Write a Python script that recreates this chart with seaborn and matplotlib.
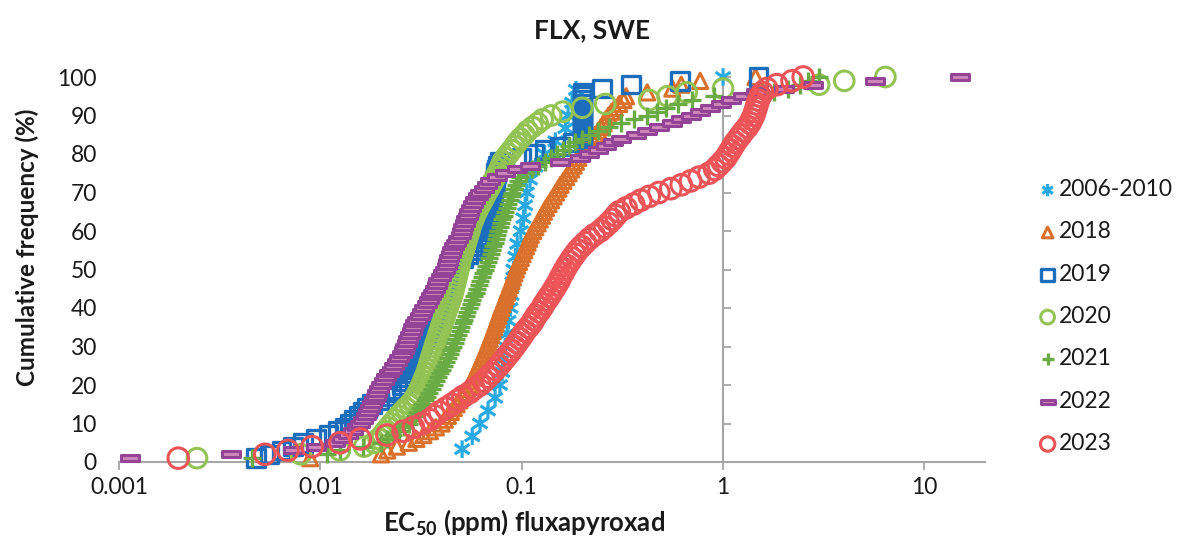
import numpy as np
import pandas as pd
import matplotlib
matplotlib.use("Agg")
import matplotlib.pyplot as plt
from matplotlib.path import Path
import seaborn as sns

# EC50 values (ppm), sorted, one list per sampling period
ec50_2006_2010 = [0.0506, 0.0568, 0.0621, 0.068, 0.0738, 0.078, 0.080, 0.081, 0.0828, 0.0847,
                  0.086, 0.088, 0.089, 0.090, 0.091, 0.093, 0.095, 0.099, 0.102, 0.104,
                  0.106, 0.110, 0.117, 0.130, 0.147, 0.165, 0.170, 0.178, 0.186, 1.0]

ec50_2018 = [0.0089, 0.0200, 0.0215, 0.0240, 0.0275, 0.0300, 0.0325, 0.0350, 0.0375, 0.0400,
             0.0415, 0.0430, 0.0445, 0.0460, 0.0475, 0.0490, 0.0505, 0.0520, 0.0535, 0.0550,
             0.0562, 0.0574, 0.0586, 0.0598, 0.0610, 0.0622, 0.0634, 0.0646, 0.0658, 0.0670,
             0.0682, 0.0694, 0.0706, 0.0718, 0.0730, 0.0742, 0.0754, 0.0766, 0.0778, 0.0790,
             0.0804, 0.0818, 0.0832, 0.0846, 0.0860, 0.0875, 0.0890, 0.0905, 0.0920, 0.0935,
             0.0950, 0.0970, 0.0990, 0.101, 0.103, 0.105, 0.107, 0.109, 0.111, 0.114,
             0.117, 0.120, 0.123, 0.126, 0.129, 0.132, 0.136, 0.140, 0.144, 0.148,
             0.152, 0.156, 0.161, 0.166, 0.171, 0.176, 0.181, 0.186, 0.191, 0.196,
             0.203, 0.210, 0.217, 0.224, 0.232, 0.240, 0.248, 0.255, 0.262, 0.270,
             0.280, 0.290, 0.305, 0.320, 0.330, 0.420, 0.560, 0.620, 0.770, 1.45]

ec50_2019 = [0.0048, 0.0056, 0.0064, 0.0073, 0.0082, 0.0095, 0.0110, 0.0122, 0.0132, 0.0140,
             0.0147, 0.0155, 0.0163, 0.0170, 0.0180, 0.0195, 0.0210, 0.0225, 0.0240, 0.0255,
             0.0262, 0.0268, 0.0274, 0.0280, 0.0286, 0.0292, 0.0298, 0.0304, 0.0310, 0.0316,
             0.0322, 0.0328, 0.0334, 0.0340, 0.0346, 0.0352, 0.0358, 0.0364, 0.0370, 0.0376,
             0.0383, 0.0390, 0.0397, 0.0404, 0.0411, 0.0418, 0.0425, 0.0432, 0.0439, 0.0446,
             0.0460, 0.0480, 0.0510, 0.0540, 0.0570, 0.0600, 0.0625, 0.0645, 0.0660, 0.0670,
             0.0675, 0.0680, 0.0685, 0.0690, 0.0695, 0.0700, 0.0705, 0.0710, 0.0715, 0.0720,
             0.0725, 0.0730, 0.0735, 0.0740, 0.0745, 0.0750, 0.0760, 0.0780, 0.100, 0.115,
             0.130, 0.155, 0.180, 0.200, 0.200, 0.200, 0.200, 0.200, 0.200, 0.200,
             0.200, 0.200, 0.200, 0.200, 0.200, 0.200, 0.250, 0.350, 0.610, 1.50]

ec50_2020 = [0.00244, 0.0080, 0.0125, 0.0165, 0.0185, 0.0195, 0.0203, 0.0210, 0.0218, 0.0226,
             0.0235, 0.0245, 0.0255, 0.0266, 0.0278, 0.0289, 0.0298, 0.0305, 0.0312, 0.0318,
             0.0324, 0.0330, 0.0336, 0.0341, 0.0346, 0.0350, 0.0355, 0.0360, 0.0365, 0.0370,
             0.0375, 0.0381, 0.0386, 0.0392, 0.0397, 0.0403, 0.0409, 0.0415, 0.0421, 0.0428,
             0.0435, 0.0442, 0.0449, 0.0455, 0.0460, 0.0465, 0.0470, 0.0475, 0.0480, 0.0485,
             0.0490, 0.0494, 0.0500, 0.0507, 0.0514, 0.0521, 0.0528, 0.0535, 0.0542, 0.0550,
             0.0556, 0.0565, 0.0575, 0.0585, 0.0597, 0.0610, 0.0625, 0.0640, 0.0655, 0.0670,
             0.0688, 0.0705, 0.0722, 0.0740, 0.0760, 0.0775, 0.0790, 0.0805, 0.0830, 0.0860,
             0.0890, 0.0920, 0.0950, 0.0985, 0.103, 0.107, 0.113, 0.120, 0.127, 0.140,
             0.160, 0.200, 0.260, 0.430, 0.530, 0.660, 1.00, 3.00, 4.00, 6.40]

ec50_2021 = [0.0046, 0.0108, 0.0125, 0.0163, 0.0200, 0.0215, 0.0230, 0.0245, 0.0260, 0.0275,
             0.0285, 0.0294, 0.0303, 0.0312, 0.0321, 0.0330, 0.0339, 0.0348, 0.0357, 0.0366,
             0.0375, 0.0384, 0.0393, 0.0402, 0.0411, 0.0420, 0.0429, 0.0438, 0.0447, 0.0456,
             0.0465, 0.0474, 0.0483, 0.0492, 0.0501, 0.0510, 0.0519, 0.0528, 0.0537, 0.0546,
             0.0557, 0.0568, 0.0579, 0.0590, 0.0601, 0.0612, 0.0623, 0.0634, 0.0645, 0.0656,
             0.0667, 0.0678, 0.0689, 0.0700, 0.0711, 0.0722, 0.0733, 0.0744, 0.0755, 0.0766,
             0.0778, 0.0790, 0.0802, 0.0815, 0.0828, 0.0842, 0.0856, 0.0870, 0.0885, 0.0900,
             0.0920, 0.0940, 0.0960, 0.0985, 0.105, 0.112, 0.120, 0.130, 0.140, 0.150,
             0.160, 0.172, 0.185, 0.200, 0.215, 0.240, 0.270, 0.310, 0.360, 0.420,
             0.470, 0.520, 0.600, 0.700, 0.900, 1.80, 2.10, 2.40, 2.65, 3.00]

ec50_2022 = [0.00113, 0.0036, 0.0073, 0.0095, 0.0118, 0.0128, 0.0137, 0.0145, 0.0152, 0.0158,
             0.0163, 0.0168, 0.0173, 0.0177, 0.0181, 0.0185, 0.0188, 0.0191, 0.0196, 0.0201,
             0.0207, 0.0213, 0.0219, 0.0226, 0.0233, 0.0241, 0.0247, 0.0253, 0.0259, 0.0264,
             0.0269, 0.0274, 0.0279, 0.0284, 0.0289, 0.0296, 0.0303, 0.0311, 0.0320, 0.0329,
             0.0337, 0.0345, 0.0354, 0.0362, 0.0370, 0.0378, 0.0386, 0.0396, 0.0407, 0.0418,
             0.0424, 0.0430, 0.0437, 0.0445, 0.0453, 0.0461, 0.0472, 0.0485, 0.0497, 0.0505,
             0.0513, 0.0522, 0.0531, 0.0540, 0.0550, 0.0561, 0.0573, 0.0586, 0.0604, 0.0624,
             0.0650, 0.0672, 0.0696, 0.0750, 0.0825, 0.095, 0.110, 0.155, 0.195, 0.215,
             0.240, 0.262, 0.285, 0.310, 0.370, 0.420, 0.480, 0.560, 0.620, 0.690,
             0.770, 0.860, 0.980, 1.10, 1.25, 1.45, 2.00, 2.80, 5.70, 15.0]

ec50_2023 = [0.00197, 0.0053, 0.0069, 0.0091, 0.0125, 0.0158, 0.0214, 0.0258, 0.029, 0.032,
             0.035, 0.037, 0.039, 0.042, 0.045, 0.048, 0.051, 0.055, 0.058, 0.062,
             0.065, 0.068, 0.071, 0.074, 0.077, 0.080, 0.083, 0.086, 0.089, 0.092,
             0.095, 0.098, 0.101, 0.104, 0.108, 0.112, 0.115, 0.118, 0.122, 0.126,
             0.129, 0.133, 0.137, 0.141, 0.145, 0.149, 0.153, 0.156, 0.160, 0.164,
             0.168, 0.173, 0.178, 0.184, 0.190, 0.198, 0.207, 0.217, 0.229, 0.245,
             0.258, 0.270, 0.282, 0.293, 0.305, 0.330, 0.360, 0.390, 0.430, 0.480,
             0.550, 0.620, 0.690, 0.760, 0.850, 0.910, 0.950, 0.990, 1.03, 1.06,
             1.09, 1.12, 1.15, 1.19, 1.23, 1.27, 1.32, 1.36, 1.39, 1.42,
             1.44, 1.46, 1.48, 1.50, 1.53, 1.57, 1.65, 1.85, 2.20, 2.50]

series_labels = ["2006-2010", "2018", "2019", "2020", "2021", "2022", "2023"]
series_values = [ec50_2006_2010, ec50_2018, ec50_2019, ec50_2020, ec50_2021, ec50_2022, ec50_2023]
x_ticks = [0.001, 0.01, 0.1, 1, 10]
x_tick_labels = ["0.001", "0.01", "0.1", "1", "10"]
y_ticks = list(range(0, 101, 10))

# long table: each isolate with its cumulative frequency within its period
frames = []
for label, vals in zip(series_labels, series_values):
    v = np.sort(np.asarray(vals, dtype=float))
    n = len(v)
    frames.append(pd.DataFrame({"ec50": v,
                                "cumfreq": 100.0 * np.arange(1, n + 1) / n,
                                "period": label}))
data = pd.concat(frames, ignore_index=True)

# marker shapes
asterisk = Path([(0, -1), (0, 1), (-0.85, -0.55), (0.85, 0.55), (-0.85, 0.55), (0.85, -0.55)],
                [Path.MOVETO, Path.LINETO, Path.MOVETO, Path.LINETO, Path.MOVETO, Path.LINETO])
dash = Path([(-1, -0.28), (1, -0.28), (1, 0.28), (-1, 0.28), (-1, -0.28)],
            [Path.MOVETO, Path.LINETO, Path.LINETO, Path.LINETO, Path.CLOSEPOLY])

styles = {
    "2006-2010": dict(marker=asterisk, s=160, facecolor="none", edgecolor="#29a9e1", linewidth=2.3),
    "2018": dict(marker="^", s=120, facecolor="none", edgecolor="#d9702b", linewidth=2.2),
    "2019": dict(marker="s", s=160, facecolor="none", edgecolor="#1c6dbb", linewidth=2.4),
    "2020": dict(marker="o", s=200, facecolor="none", edgecolor="#93c354", linewidth=2.2),
    "2021": dict(marker="+", s=170, color="#6aab45", linewidth=2.4),
    "2022": dict(marker=dash, s=180, facecolor="#cf86b9", edgecolor="#934496", linewidth=2.2),
    "2023": dict(marker="o", s=220, facecolor="none", edgecolor="#ec5458", linewidth=2.2),
}

sns.set_theme(style="white")
plt.rcParams["font.family"] = ["Lato", "DejaVu Sans"]
plt.rcParams["mathtext.fontset"] = "custom"
plt.rcParams["mathtext.rm"] = "Lato"
plt.rcParams["mathtext.bf"] = "Lato:bold"

fig = plt.figure(figsize=(11.8, 5.42), dpi=100)
ax = fig.add_axes([119 / 1180, 80 / 542, (985 - 119) / 1180, (462 - 77) / 542])

axis_grey = "#a6a6a6"
text_col = "#1a1a1a"
for label in series_labels:
    sub = data[data["period"] == label]
    sns.scatterplot(data=sub, x="ec50", y="cumfreq", ax=ax, label=label,
                    clip_on=False, zorder=3, **styles[label])

ax.set_xscale("log")
ax.set_xlim(0.001, 20)
ax.set_ylim(0, 100)
ax.set_xticks(x_ticks)
ax.set_xticklabels(x_tick_labels)
ax.xaxis.set_minor_locator(matplotlib.ticker.NullLocator())
ax.set_yticks(y_ticks)
ax.set_xlabel("")
ax.set_ylabel("")
ax.tick_params(axis="x", direction="out", length=6, width=1.3, color=axis_grey,
               labelsize=16.5, pad=5, labelcolor=text_col, bottom=True)
ax.tick_params(axis="y", length=0, labelsize=16.5, pad=16, labelcolor=text_col)
for side in ["top", "right", "left"]:
    ax.spines[side].set_visible(False)
ax.spines["bottom"].set_color(axis_grey)
ax.spines["bottom"].set_linewidth(1.5)

# value axis crosses the category axis at EC50 = 1; ticks point to the right
lo, hi = np.log10(ax.get_xlim())
cross = (0 - lo) / (hi - lo)
sec = ax.secondary_yaxis(cross)
sec.set_alignment("right")
sec.set_yticks(y_ticks)
sec.yaxis.set_ticklabels([])
sec.tick_params(axis="y", which="major", direction="out", length=6, width=1.3,
                color=axis_grey, right=True, left=False,
                labelleft=False, labelright=False)
for side in ["left", "right"]:
    sec.spines[side].set_color(axis_grey)
    sec.spines[side].set_linewidth(1.5)

leg = ax.legend(loc="upper left", bbox_to_anchor=(1027 / 1180, 1 - 170 / 542),
                bbox_transform=fig.transFigure, frameon=False, fontsize=16.5,
                handletextpad=0.0, labelspacing=0.93, markerscale=0.7,
                handlelength=1.0, borderaxespad=0)
for t in leg.get_texts():
    t.set_color(text_col)

fig.text(592 / 1180, 1 - 30 / 542, "FLX, SWE", ha="center", va="center",
         fontsize=19, fontweight="bold", color=text_col)
fig.text(524 / 1180, 1 - 522 / 542, r"EC$_{\mathbf{50}}$ (ppm) fluxapyroxad", ha="center",
         va="center", fontsize=18.5, fontweight="bold", color=text_col)
fig.text(27 / 1180, 1 - 247 / 542, "Cumulative frequency (%)", ha="center", va="center",
         rotation=90, fontsize=17.5, fontweight="bold", color=text_col)

fig.savefig("out.png", dpi=100)
